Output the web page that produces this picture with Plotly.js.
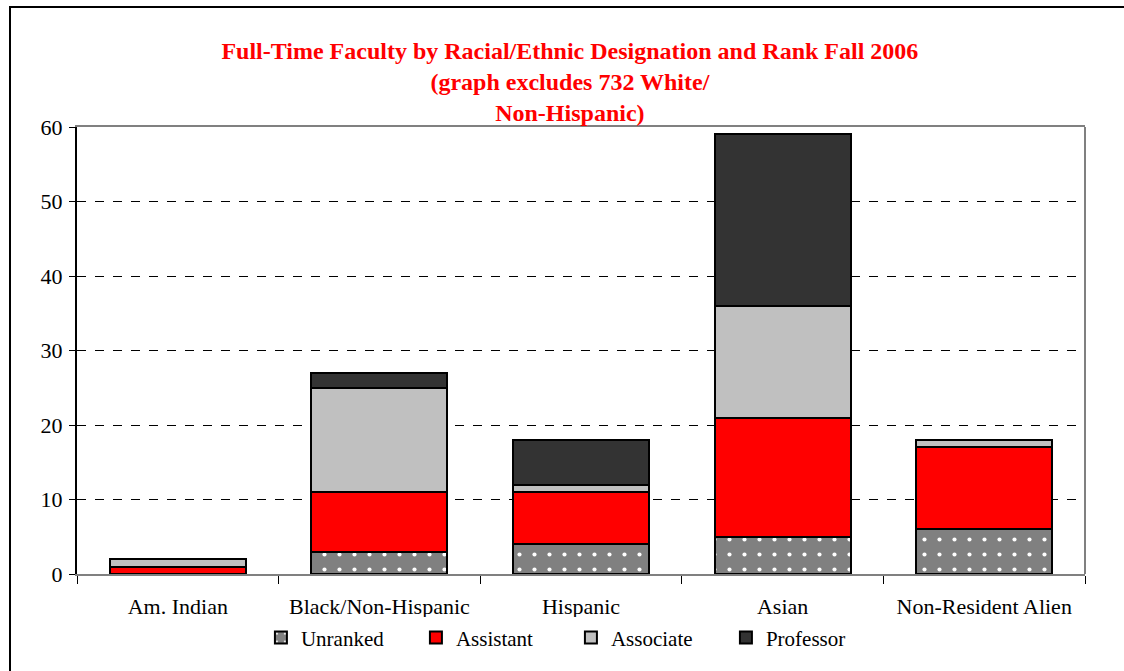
<!DOCTYPE html>
<html>
<head>
<meta charset="utf-8">
<script src="https://cdn.plot.ly/plotly-3.0.1.min.js"></script>
<style>html,body{margin:0;padding:0;background:#fff;}#chart{width:1124px;height:671px;}</style>
</head>
<body>
<div id="chart"></div>
<script>
const categories = ["Am. Indian", "Black/Non-Hispanic", "Hispanic", "Asian", "Non-Resident Alien"];
const unranked  = [0, 3, 4, 5, 6];
const assistant = [1, 8, 7, 16, 11];
const associate = [1, 14, 1, 15, 1];
const professor = [0, 2, 6, 23, 0];
const seriesNames = ["Unranked", "Assistant", "Associate", "Professor"];
const yTicks = [0, 10, 20, 30, 40, 50, 60];

const serif = "Liberation Serif, Times New Roman, serif";
const line = {color: "#000000", width: 2};

const traces = [
  {type: "bar", name: seriesNames[0], x: categories, y: unranked,
   marker: {color: "#808080", line: line, pattern: {shape: ".", fgcolor: "#ffffff", bgcolor: "#808080", size: 15, solidity: 0.06}}},
  {type: "bar", name: seriesNames[1], x: categories, y: assistant,
   marker: {color: "#ff0000", line: line}},
  {type: "bar", name: seriesNames[2], x: categories, y: associate,
   marker: {color: "#c0c0c0", line: line}},
  {type: "bar", name: seriesNames[3], x: categories, y: professor,
   marker: {color: "#333333", line: line}}
];

const layout = {
  width: 1124, height: 671,
  margin: {l: 77, r: 39, t: 127, b: 97},
  paper_bgcolor: "#ffffff", plot_bgcolor: "#ffffff",
  barmode: "stack", bargap: 0.325,
  showlegend: true,
  hovermode: false,
  font: {family: serif, color: "#000000", size: 21},
  title: {
    text: "Full-Time Faculty by Racial/Ethnic Designation and Rank Fall 2006<br>(graph excludes 732 White/<br>Non-Hispanic)",
    font: {family: serif, size: 24, color: "#ff0000", weight: "bold"},
    x: 0.507, xref: "container", xanchor: "center",
    y: 0.9125, yref: "container", yanchor: "top"
  },
  xaxis: {
    type: "category",
    showline: true, linecolor: "#808080", linewidth: 2, mirror: true,
    ticks: "outside", tickson: "boundaries", ticklen: 8, tickcolor: "#000000", tickwidth: 1,
    showgrid: false, zeroline: false, ticklabelstandoff: 12,
    tickfont: {family: serif, size: 22, color: "#000000"}
  },
  yaxis: {
    range: [0, 60], tickvals: yTicks, ticktext: yTicks.map(String),
    showline: true, linecolor: "#000000", linewidth: 2,
    ticks: "outside", ticklen: 6, tickcolor: "#000000", tickwidth: 1,
    showgrid: true, gridcolor: "#000000", gridwidth: 1, griddash: "dash",
    zeroline: false, ticklabelstandoff: 2,
    tickfont: {family: serif, size: 22, color: "#000000"}
  },
  legend: {
    orientation: "h", x: 0.49, xanchor: "center", y: -0.143, yanchor: "middle",
    traceorder: "normal", font: {family: serif, size: 21, color: "#000000"},
    itemwidth: 30, entrywidth: 110
  },
  shapes: [
    {type: "line", xref: "paper", yref: "paper", x0: 1, x1: 1, y0: 0, y1: 1,
     line: {color: "#808080", width: 2}},
    {type: "rect", xref: "paper", yref: "paper",
     x0: (10 - 77) / 1008, x1: (1140 - 77) / 1008, y0: (574 - 690) / 447, y1: (574 - 7) / 447,
     line: {color: "#000000", width: 2}, fillcolor: "rgba(0,0,0,0)", layer: "below"}
  ]
};

Plotly.newPlot("chart", traces, layout, {staticPlot: true, displayModeBar: false});
</script>
</body>
</html>
